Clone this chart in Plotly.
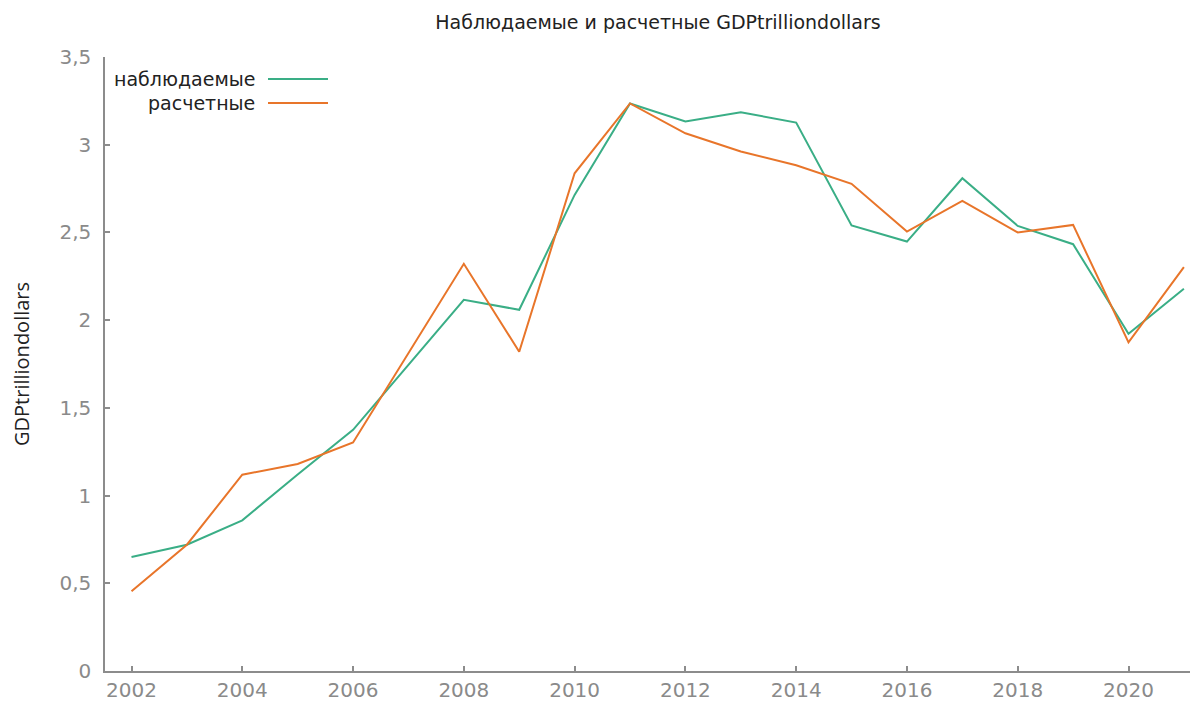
import plotly.graph_objects as go

years = list(range(2002, 2022))
observed = [0.650, 0.72, 0.859, 1.12, 1.375, 1.745, 2.116, 2.059, 2.714, 3.235,
            3.132, 3.185, 3.126, 2.540, 2.448, 2.809, 2.537, 2.433, 1.922, 2.179]
fitted = [0.455, 0.72, 1.119, 1.18, 1.303, 1.81, 2.321, 1.820, 2.837, 3.235,
          3.065, 2.961, 2.883, 2.777, 2.505, 2.680, 2.500, 2.543, 1.873, 2.302]
series_names = ["наблюдаемые", "расчетные"]
colors = ["#3aae86", "#e8752a"]
x_ticks = list(range(2002, 2022, 2))
y_ticks = [0, 0.5, 1, 1.5, 2, 2.5, 3, 3.5]

OFF = 8  # page body margin
W, H = 1198 - OFF, 706 - OFF
L, R, T, B = 105 - OFF, 0, 57 - OFF, 34.5
pw = W - L - R
ph = H - T - B

fig = go.Figure()
for name, vals, c in zip(series_names, [observed, fitted], colors):
    fig.add_trace(go.Scatter(x=years, y=vals, mode="lines", name=name,
                             line=dict(color=c, width=2), showlegend=False))

axis_common = dict(showline=True, linecolor="#8c8c8c", linewidth=1.5,
                   ticks="inside", ticklen=5, tickwidth=1.5, tickcolor="#8c8c8c",
                   showgrid=False, zeroline=False,
                   tickfont=dict(family="DejaVu Sans", size=20, color="#8a8a8a"))

fig.update_layout(
    width=W, height=H,
    margin=dict(l=L, r=R, t=T, b=B),
    paper_bgcolor="white", plot_bgcolor="white",
    separators=", ",
    title=dict(text="Наблюдаемые и расчетные GDPtrilliondollars",
               font=dict(family="DejaVu Sans", size=19, color="#222222"),
               x=(658 - OFF) / W, xanchor="center", y=1 - (22 - OFF) / H, yanchor="middle",
               xref="container", yref="container"),
    xaxis=dict(range=[2001.5216, 2021.2548], tickvals=x_ticks, **axis_common),
    yaxis=dict(range=[0, 3.5], tickvals=y_ticks, ticklabelstandoff=8, **axis_common),
    showlegend=False,
)

# y axis title
fig.add_annotation(text="GDPtrilliondollars", textangle=-90, xref="paper", yref="paper",
                   x=(21 - 105) / pw, y=0.5, xanchor="center", yanchor="middle",
                   showarrow=False, font=dict(family="Open Sans", size=20, color="#222222"))

# legend (text right-aligned, sample line to the right)
leg_y = [79, 103]
for name, c, py in zip(series_names, colors, leg_y):
    yp = (671.5 - py) / ph
    fig.add_annotation(text=name, xref="paper", yref="paper", x=(257 - 105) / pw, y=yp,
                       xanchor="right", yanchor="middle", showarrow=False,
                       font=dict(family="DejaVu Sans", size=19, color="#222222"))
    fig.add_shape(type="line", xref="paper", yref="paper",
                  x0=(268 - 105) / pw, x1=(328 - 105) / pw, y0=yp, y1=yp,
                  line=dict(color=c, width=2))

fig.write_html("out.html")
